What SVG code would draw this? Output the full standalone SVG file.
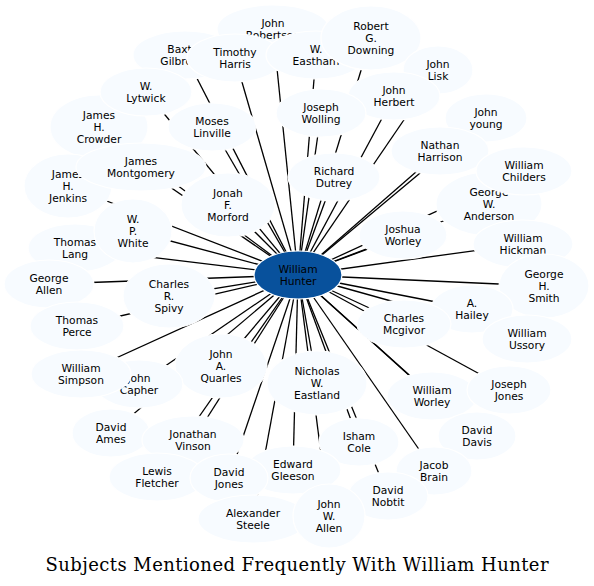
<svg xmlns="http://www.w3.org/2000/svg" width="594" height="586" viewBox="0 0 594 586">
<style>
.n{fill:#f7fbff;stroke:#ffffff;stroke-width:1.2}
.c{fill:#08519c;stroke:#ffffff;stroke-width:1.2}
.t{font-family:"DejaVu Sans",sans-serif;font-size:10.7px;text-anchor:middle;fill:#000}
.e line{stroke:#000;stroke-width:1.3}
.title{font-family:"DejaVu Serif","Liberation Serif",serif;font-size:18px;text-anchor:middle;fill:#000}
</style>
<rect width="594" height="586" fill="#fff"/>
<g id="connectors" class="e">
<line x1="298" y1="275" x2="273" y2="29"/>
<line x1="298" y1="275" x2="185" y2="55"/>
<line x1="298" y1="275" x2="235" y2="58"/>
<line x1="298" y1="275" x2="316" y2="55"/>
<line x1="298" y1="275" x2="371" y2="38"/>
<line x1="298" y1="275" x2="438" y2="70"/>
<line x1="298" y1="275" x2="146" y2="92"/>
<line x1="298" y1="275" x2="394" y2="96"/>
<line x1="298" y1="275" x2="321" y2="113"/>
<line x1="298" y1="275" x2="212" y2="127"/>
<line x1="298" y1="275" x2="99" y2="127"/>
<line x1="298" y1="275" x2="486" y2="118"/>
<line x1="298" y1="275" x2="440" y2="151"/>
<line x1="298" y1="275" x2="68" y2="186"/>
<line x1="298" y1="275" x2="141" y2="167"/>
<line x1="298" y1="275" x2="524" y2="171"/>
<line x1="298" y1="275" x2="334" y2="177"/>
<line x1="298" y1="275" x2="228" y2="205"/>
<line x1="298" y1="275" x2="489" y2="204"/>
<line x1="298" y1="275" x2="133" y2="231"/>
<line x1="298" y1="275" x2="403" y2="235"/>
<line x1="298" y1="275" x2="75" y2="248"/>
<line x1="298" y1="275" x2="523" y2="244"/>
<line x1="298" y1="275" x2="49" y2="284"/>
<line x1="298" y1="275" x2="169" y2="296"/>
<line x1="298" y1="275" x2="544" y2="286"/>
<line x1="298" y1="275" x2="472" y2="309"/>
<line x1="298" y1="275" x2="404" y2="324"/>
<line x1="298" y1="275" x2="77" y2="326"/>
<line x1="298" y1="275" x2="527" y2="339"/>
<line x1="298" y1="275" x2="221" y2="366"/>
<line x1="298" y1="275" x2="317" y2="383"/>
<line x1="298" y1="275" x2="139" y2="384"/>
<line x1="298" y1="275" x2="81" y2="374"/>
<line x1="298" y1="275" x2="432" y2="396"/>
<line x1="298" y1="275" x2="509" y2="390"/>
<line x1="298" y1="275" x2="111" y2="433"/>
<line x1="298" y1="275" x2="193" y2="440"/>
<line x1="298" y1="275" x2="359" y2="442"/>
<line x1="298" y1="275" x2="477" y2="436"/>
<line x1="298" y1="275" x2="293" y2="470"/>
<line x1="298" y1="275" x2="434" y2="471"/>
<line x1="298" y1="275" x2="157" y2="477"/>
<line x1="298" y1="275" x2="229" y2="478"/>
<line x1="298" y1="275" x2="388" y2="496"/>
<line x1="298" y1="275" x2="253" y2="519"/>
<line x1="298" y1="275" x2="329" y2="516"/>
</g>
<g id="n-robertson"><ellipse class="n" cx="273" cy="29" rx="56" ry="24"/><text class="t" x="273" y="27">John</text><text class="t" x="273" y="39">Robertson</text></g>
<g id="n-baxter"><ellipse class="n" cx="185" cy="55" rx="52" ry="24"/><text class="t" x="185" y="53">Baxter</text><text class="t" x="185" y="65">Gilbreath</text></g>
<g id="n-timothy"><ellipse class="n" cx="235" cy="58" rx="48" ry="24"/><text class="t" x="235" y="56">Timothy</text><text class="t" x="235" y="68">Harris</text></g>
<g id="n-eastham"><ellipse class="n" cx="316" cy="55" rx="50" ry="24"/><text class="t" x="316" y="53">W.</text><text class="t" x="316" y="65">Eastham</text></g>
<g id="n-downing"><ellipse class="n" cx="371" cy="38" rx="50" ry="32"/><text class="t" x="371" y="30">Robert</text><text class="t" x="371" y="42">G.</text><text class="t" x="371" y="54">Downing</text></g>
<g id="n-lisk"><ellipse class="n" cx="438" cy="70" rx="35" ry="24"/><text class="t" x="438" y="68">John</text><text class="t" x="438" y="80">Lisk</text></g>
<g id="n-crowder"><ellipse class="n" cx="99" cy="127" rx="49" ry="32"/><text class="t" x="99" y="119">James</text><text class="t" x="99" y="131">H.</text><text class="t" x="99" y="143">Crowder</text></g>
<g id="n-lytwick"><ellipse class="n" cx="146" cy="92" rx="46" ry="24"/><text class="t" x="146" y="90">W.</text><text class="t" x="146" y="102">Lytwick</text></g>
<g id="n-herbert"><ellipse class="n" cx="394" cy="96" rx="46" ry="24"/><text class="t" x="394" y="94">John</text><text class="t" x="394" y="106">Herbert</text></g>
<g id="n-wolling"><ellipse class="n" cx="321" cy="113" rx="45" ry="24"/><text class="t" x="321" y="111">Joseph</text><text class="t" x="321" y="123">Wolling</text></g>
<g id="n-linville"><ellipse class="n" cx="212" cy="127" rx="44" ry="24"/><text class="t" x="212" y="125">Moses</text><text class="t" x="212" y="137">Linville</text></g>
<g id="n-young"><ellipse class="n" cx="486" cy="118" rx="41" ry="24"/><text class="t" x="486" y="116">John</text><text class="t" x="486" y="128">young</text></g>
<g id="n-harrison"><ellipse class="n" cx="440" cy="151" rx="49" ry="24"/><text class="t" x="440" y="149">Nathan</text><text class="t" x="440" y="161">Harrison</text></g>
<g id="n-jenkins"><ellipse class="n" cx="68" cy="186" rx="44" ry="32"/><text class="t" x="68" y="178">James</text><text class="t" x="68" y="190">H.</text><text class="t" x="68" y="202">Jenkins</text></g>
<g id="n-montgomery"><ellipse class="n" cx="141" cy="167" rx="65" ry="24"/><text class="t" x="141" y="165">James</text><text class="t" x="141" y="177">Montgomery</text></g>
<g id="n-anderson"><ellipse class="n" cx="489" cy="204" rx="53" ry="32"/><text class="t" x="489" y="196">George</text><text class="t" x="489" y="208">W.</text><text class="t" x="489" y="220">Anderson</text></g>
<g id="n-childers"><ellipse class="n" cx="524" cy="171" rx="48" ry="24"/><text class="t" x="524" y="169">William</text><text class="t" x="524" y="181">Childers</text></g>
<g id="n-dutrey"><ellipse class="n" cx="334" cy="177" rx="46" ry="24"/><text class="t" x="334" y="175">Richard</text><text class="t" x="334" y="187">Dutrey</text></g>
<g id="n-morford"><ellipse class="n" cx="228" cy="205" rx="47" ry="32"/><text class="t" x="228" y="197">Jonah</text><text class="t" x="228" y="209">F.</text><text class="t" x="228" y="221">Morford</text></g>
<g id="n-lang"><ellipse class="n" cx="75" cy="248" rx="47" ry="24"/><text class="t" x="75" y="246">Thomas</text><text class="t" x="75" y="258">Lang</text></g>
<g id="n-white"><ellipse class="n" cx="133" cy="231" rx="39" ry="32"/><text class="t" x="133" y="223">W.</text><text class="t" x="133" y="235">P.</text><text class="t" x="133" y="247">White</text></g>
<g id="n-jworley"><ellipse class="n" cx="403" cy="235" rx="44" ry="24"/><text class="t" x="403" y="233">Joshua</text><text class="t" x="403" y="245">Worley</text></g>
<g id="n-hickman"><ellipse class="n" cx="523" cy="244" rx="50" ry="24"/><text class="t" x="523" y="242">William</text><text class="t" x="523" y="254">Hickman</text></g>
<g id="n-gallen"><ellipse class="n" cx="49" cy="284" rx="45" ry="24"/><text class="t" x="49" y="282">George</text><text class="t" x="49" y="294">Allen</text></g>
<g id="n-spivy"><ellipse class="n" cx="169" cy="296" rx="46" ry="32"/><text class="t" x="169" y="288">Charles</text><text class="t" x="169" y="300">R.</text><text class="t" x="169" y="312">Spivy</text></g>
<g id="n-smith"><ellipse class="n" cx="544" cy="286" rx="45" ry="32"/><text class="t" x="544" y="278">George</text><text class="t" x="544" y="290">H.</text><text class="t" x="544" y="302">Smith</text></g>
<g id="n-hailey"><ellipse class="n" cx="472" cy="309" rx="41" ry="24"/><text class="t" x="472" y="307">A.</text><text class="t" x="472" y="319">Hailey</text></g>
<g id="n-mcgivor"><ellipse class="n" cx="404" cy="324" rx="47" ry="24"/><text class="t" x="404" y="322">Charles</text><text class="t" x="404" y="334">Mcgivor</text></g>
<g id="n-perce"><ellipse class="n" cx="77" cy="326" rx="47" ry="24"/><text class="t" x="77" y="324">Thomas</text><text class="t" x="77" y="336">Perce</text></g>
<g id="n-ussory"><ellipse class="n" cx="527" cy="339" rx="45" ry="24"/><text class="t" x="527" y="337">William</text><text class="t" x="527" y="349">Ussory</text></g>
<g id="n-quarles"><ellipse class="n" cx="221" cy="366" rx="46" ry="32"/><text class="t" x="221" y="358">John</text><text class="t" x="221" y="370">A.</text><text class="t" x="221" y="382">Quarles</text></g>
<g id="n-eastland"><ellipse class="n" cx="317" cy="383" rx="50" ry="32"/><text class="t" x="317" y="375">Nicholas</text><text class="t" x="317" y="387">W.</text><text class="t" x="317" y="399">Eastland</text></g>
<g id="n-capher"><ellipse class="n" cx="139" cy="384" rx="44" ry="24"/><text class="t" x="139" y="382">John</text><text class="t" x="139" y="394">Capher</text></g>
<g id="n-simpson"><ellipse class="n" cx="81" cy="374" rx="50" ry="24"/><text class="t" x="81" y="372">William</text><text class="t" x="81" y="384">Simpson</text></g>
<g id="n-wworley"><ellipse class="n" cx="432" cy="396" rx="45" ry="24"/><text class="t" x="432" y="394">William</text><text class="t" x="432" y="406">Worley</text></g>
<g id="n-jjones"><ellipse class="n" cx="509" cy="390" rx="42" ry="24"/><text class="t" x="509" y="388">Joseph</text><text class="t" x="509" y="400">Jones</text></g>
<g id="n-ames"><ellipse class="n" cx="111" cy="433" rx="39" ry="24"/><text class="t" x="111" y="431">David</text><text class="t" x="111" y="443">Ames</text></g>
<g id="n-vinson"><ellipse class="n" cx="193" cy="440" rx="51" ry="24"/><text class="t" x="193" y="438">Jonathan</text><text class="t" x="193" y="450">Vinson</text></g>
<g id="n-cole"><ellipse class="n" cx="359" cy="442" rx="40" ry="24"/><text class="t" x="359" y="440">Isham</text><text class="t" x="359" y="452">Cole</text></g>
<g id="n-davis"><ellipse class="n" cx="477" cy="436" rx="39" ry="24"/><text class="t" x="477" y="434">David</text><text class="t" x="477" y="446">Davis</text></g>
<g id="n-gleeson"><ellipse class="n" cx="293" cy="470" rx="48" ry="24"/><text class="t" x="293" y="468">Edward</text><text class="t" x="293" y="480">Gleeson</text></g>
<g id="n-brain"><ellipse class="n" cx="434" cy="471" rx="38" ry="24"/><text class="t" x="434" y="469">Jacob</text><text class="t" x="434" y="481">Brain</text></g>
<g id="n-fletcher"><ellipse class="n" cx="157" cy="477" rx="48" ry="24"/><text class="t" x="157" y="475">Lewis</text><text class="t" x="157" y="487">Fletcher</text></g>
<g id="n-djones"><ellipse class="n" cx="229" cy="478" rx="39" ry="24"/><text class="t" x="229" y="476">David</text><text class="t" x="229" y="488">Jones</text></g>
<g id="n-nobtit"><ellipse class="n" cx="388" cy="496" rx="40" ry="24"/><text class="t" x="388" y="494">David</text><text class="t" x="388" y="506">Nobtit</text></g>
<g id="n-steele"><ellipse class="n" cx="253" cy="519" rx="55" ry="24"/><text class="t" x="253" y="517">Alexander</text><text class="t" x="253" y="529">Steele</text></g>
<g id="n-jwallen"><ellipse class="n" cx="329" cy="516" rx="36" ry="32"/><text class="t" x="329" y="508">John</text><text class="t" x="329" y="520">W.</text><text class="t" x="329" y="532">Allen</text></g>
<g id="n-hunter"><ellipse class="c" cx="298" cy="275" rx="44" ry="24"/><text class="t" x="298" y="273">William</text><text class="t" x="298" y="285">Hunter</text></g>
<text class="title" x="297" y="571" textLength="503">Subjects Mentioned Frequently With William Hunter</text>
</svg>
